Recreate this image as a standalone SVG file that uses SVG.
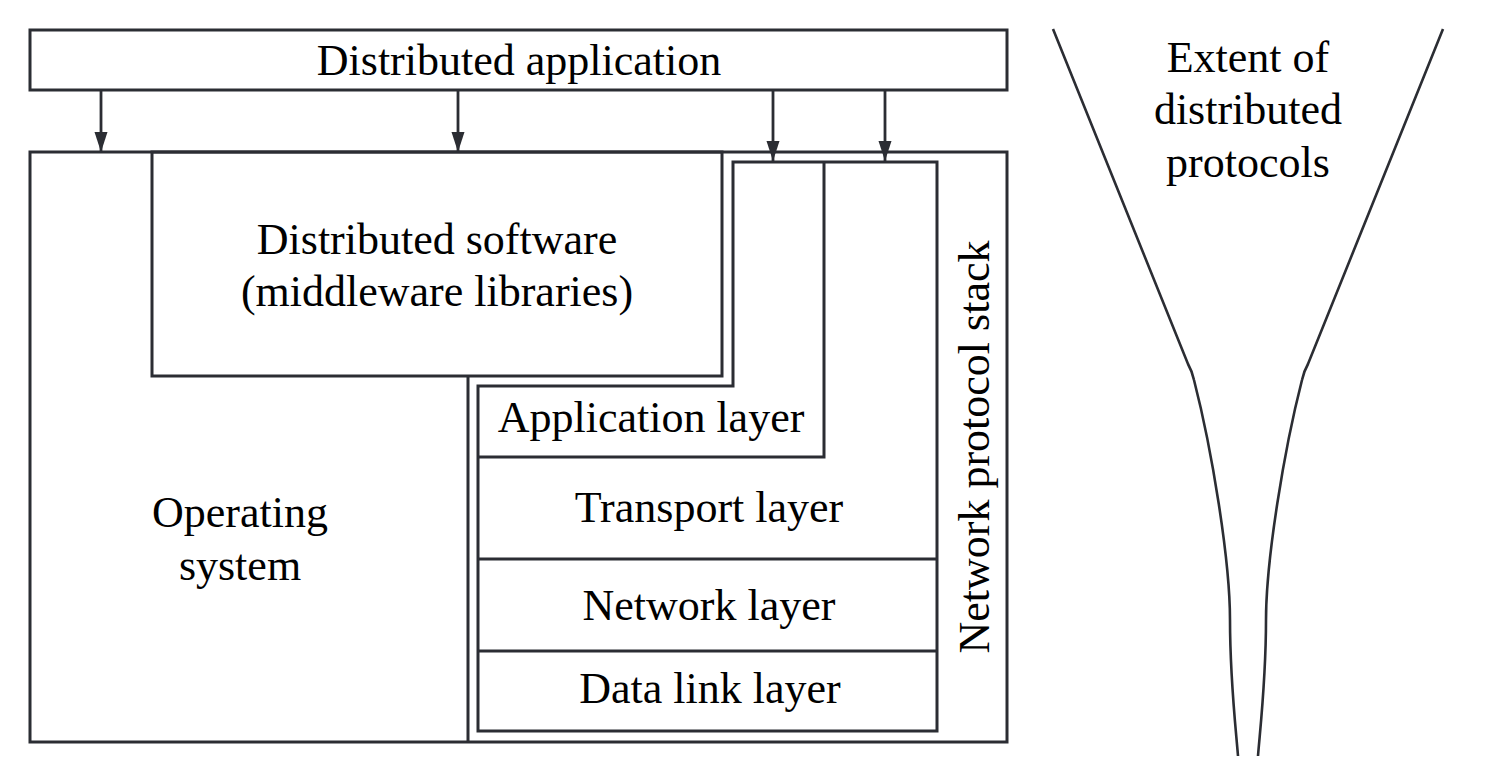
<svg xmlns="http://www.w3.org/2000/svg" width="1488" height="783" viewBox="0 0 1488 783">
<style>
.b{fill:none;stroke:#2b2d33;stroke-width:3}
.c{fill:none;stroke:#2b2d33;stroke-width:2.8}
.f{fill:none;stroke:#2b2d33;stroke-width:2.6}
text{font-family:"Liberation Serif","Times New Roman",serif;font-size:44px;fill:#000;text-anchor:middle}
</style>
<defs>
<marker id="ah" markerUnits="userSpaceOnUse" markerWidth="22" markerHeight="14" refX="20" refY="6.5" orient="auto">
<path d="M0,0 L20,6.5 L0,13 z" fill="#2b2d33"/>
</marker>
</defs>
<rect width="1488" height="783" fill="#fff"/>
<g id="app">
<rect class="b" x="30" y="30" width="977" height="60"/>
<text x="519" y="75">Distributed application</text>
</g>
<g id="os">
<rect class="b" x="30" y="152" width="977" height="590"/>
<line class="b" x1="468" y1="376" x2="468" y2="742"/>
<text x="240" y="527">Operating</text>
<text x="240" y="580">system</text>
</g>
<g id="middleware">
<rect class="b" x="152" y="152" width="570" height="224"/>
<text x="437" y="254">Distributed software</text>
<text x="437" y="306">(middleware libraries)</text>
</g>
<g id="stack">
<path class="b" d="M733,162 H937 V731 H478 V386 H733 Z"/>
<text x="989" y="447" transform="rotate(-90 989 447)">Network protocol stack</text>
</g>
<g id="application-layer">
<path class="b" d="M824,162 V457 H478"/>
<text x="651" y="432">Application layer</text>
</g>
<g id="transport-layer">
<line class="b" x1="478" y1="559" x2="937" y2="559"/>
<text x="709" y="522">Transport layer</text>
</g>
<g id="network-layer">
<line class="b" x1="478" y1="651" x2="937" y2="651"/>
<text x="709" y="620">Network layer</text>
</g>
<g id="datalink-layer">
<text x="710" y="703">Data link layer</text>
</g>
<g id="connectors">
<line class="c" x1="101" y1="90" x2="101" y2="152" marker-end="url(#ah)"/>
<line class="c" x1="458" y1="90" x2="458" y2="152" marker-end="url(#ah)"/>
<line class="c" x1="773" y1="90" x2="773" y2="161" marker-end="url(#ah)"/>
<line class="c" x1="885" y1="90" x2="885" y2="161" marker-end="url(#ah)"/>
</g>
<g id="extent">
<path class="f" d="M1053,29 L1188,364 Q1192,371 1194,380 C1212,450 1230,560 1230,620 C1230,680 1236,730 1238,756"/>
<path class="f" d="M1443,29 L1308,364 Q1304,371 1302,380 C1284,450 1266,560 1266,620 C1266,680 1260,730 1258,756"/>
<text x="1248" y="72">Extent of</text>
<text x="1248" y="124">distributed</text>
<text x="1248" y="177">protocols</text>
</g>
</svg>
